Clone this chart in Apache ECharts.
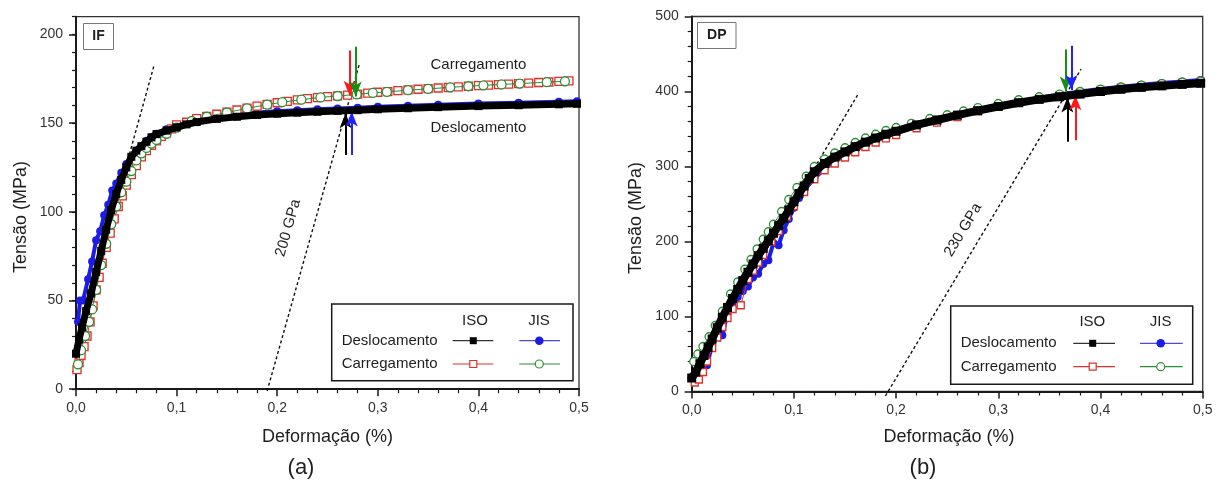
<!DOCTYPE html>
<html>
<head>
<meta charset="utf-8">
<script src="https://cdn.jsdelivr.net/npm/echarts@6.0.0/dist/echarts.min.js"></script>
<style>html,body{margin:0;padding:0;background:#fff;}#chart{width:1217px;height:481px;}</style>
</head>
<body>
<div id="chart"></div>
<script>
// ================= DATA =================
const X_TICKS = [0, 0.1, 0.2, 0.3, 0.4, 0.5];
const IF_Y_TICKS = [0, 50, 100, 150, 200];
const DP_Y_TICKS = [0, 100, 200, 300, 400, 500];

// ---- (a) IF ----
const IF_DESL_ISO_X = [0, 0.003, 0.006, 0.01, 0.015, 0.02, 0.025, 0.03, 0.035, 0.04, 0.045, 0.05, 0.055, 0.06, 0.065, 0.07, 0.075, 0.08, 0.09, 0.1, 0.11, 0.12, 0.14, 0.16, 0.18, 0.2, 0.22, 0.24, 0.26, 0.28, 0.3, 0.33, 0.36, 0.4, 0.44, 0.48, 0.498];
const IF_DESL_ISO_Y = [20, 28, 35, 44, 54, 66, 78, 90, 101, 110, 118, 125, 131, 134.5, 137, 139.5, 142, 143.8, 145.8, 147.6, 149.3, 150.6, 152.4, 153.6, 154.6, 155.3, 155.9, 156.4, 156.9, 157.3, 157.8, 158.4, 159, 159.6, 160.1, 160.6, 160.9];

const IF_DESL_JIS_X = [0.002, 0.004, 0.007, 0.012, 0.016, 0.02, 0.024, 0.028, 0.032, 0.036, 0.04, 0.045, 0.05, 0.055, 0.06, 0.065, 0.07, 0.075, 0.08, 0.09, 0.1, 0.12, 0.14, 0.16, 0.18, 0.2, 0.22, 0.24, 0.26, 0.28, 0.3, 0.33, 0.36, 0.4, 0.44, 0.48, 0.498];
const IF_DESL_JIS_Y = [38, 50, 50, 62, 72, 84, 89, 98, 104, 112, 116, 122, 127, 130.5, 134, 137, 140, 142, 144, 146.5, 148.5, 151.5, 153.8, 155, 156, 156.7, 157.3, 157.8, 158.3, 158.7, 159.2, 159.8, 160.4, 161, 161.5, 162, 162.3];

const IF_CARR_ISO_X = [0.001, 0.003, 0.005, 0.008, 0.011, 0.014, 0.017, 0.02, 0.023, 0.026, 0.03, 0.034, 0.038, 0.042, 0.046, 0.05, 0.055, 0.06, 0.065, 0.07, 0.075, 0.08, 0.085, 0.09, 0.095, 0.1, 0.11, 0.12, 0.13, 0.14, 0.15, 0.16, 0.17, 0.18, 0.19, 0.2, 0.21, 0.22, 0.23, 0.24, 0.25, 0.26, 0.27, 0.28, 0.29, 0.3, 0.31, 0.32, 0.33, 0.34, 0.35, 0.36, 0.37, 0.38, 0.39, 0.4, 0.41, 0.42, 0.43, 0.44, 0.45, 0.46, 0.47, 0.48, 0.49];
const IF_CARR_ISO_Y = [11, 15, 19, 24, 30, 38, 47, 56, 63, 71, 80, 88, 96, 103, 109, 115, 121, 126, 131, 134.5, 137.5, 140, 142.5, 144.5, 146.8, 149, 150.5, 152.5, 153.8, 155, 156.2, 157.4, 158.5, 159.6, 160.6, 161.5, 162.3, 163.1, 163.8, 164.4, 164.9, 165.4, 165.8, 166.4, 166.9, 167.4, 167.8, 168.3, 168.7, 169.1, 169.5, 169.8, 170.1, 170.4, 170.8, 171.1, 171.4, 171.7, 172, 172.3, 172.6, 172.9, 173.2, 173.5, 173.8];

const IF_CARR_JIS_X = [0.002, 0.005, 0.009, 0.013, 0.016, 0.02, 0.025, 0.03, 0.035, 0.04, 0.045, 0.05, 0.055, 0.06, 0.065, 0.07, 0.075, 0.08, 0.09, 0.1, 0.115, 0.13, 0.15, 0.17, 0.19, 0.205, 0.224, 0.243, 0.26, 0.279, 0.295, 0.309, 0.33, 0.35, 0.372, 0.39, 0.405, 0.423, 0.441, 0.468, 0.486];
const IF_CARR_JIS_Y = [14, 22, 30, 38, 45, 56, 70, 82, 93, 103, 111, 117, 123, 129, 133, 136, 138.5, 140.5, 144, 147.5, 151.2, 153.6, 156, 158.3, 160.4, 161.8, 163.2, 164.5, 165.3, 166.2, 167, 167.6, 168.6, 169.3, 170.2, 170.8, 171.3, 171.8, 172.3, 173.1, 173.6];

const IF_TANGENT = [[-0.014, -5], [0.0778, 183]];
const IF_OFFSET = [[0.19, -1], [0.2815, 183]];
// arrows: red, green, black, blue
const IF_ARROW_X = [0.272, 0.278, 0.268, 0.274];
const IF_ARROW_FROM = [191, 193, 132, 132];
const IF_ARROW_TO = [165.5, 165, 155.5, 156.5];

// ---- (b) DP ----
const DP_DESL_ISO_X = [0, 0.004, 0.008, 0.012, 0.016, 0.02, 0.025, 0.03, 0.035, 0.04, 0.045, 0.05, 0.055, 0.06, 0.065, 0.07, 0.075, 0.08, 0.085, 0.09, 0.095, 0.1, 0.105, 0.11, 0.115, 0.12, 0.13, 0.14, 0.15, 0.16, 0.17, 0.18, 0.19, 0.2, 0.22, 0.24, 0.26, 0.28, 0.3, 0.32, 0.34, 0.36, 0.38, 0.4, 0.42, 0.44, 0.46, 0.48, 0.498];
const DP_DESL_ISO_Y = [18, 26, 37, 48, 59, 70, 85, 99, 112, 124, 136, 148, 159, 170, 181, 191, 201, 211, 221, 231, 242, 253, 264, 274, 284, 293, 304, 312.5, 319.5, 326.5, 332.5, 338, 343, 347, 355.5, 362, 368.5, 374.5, 380, 385, 389.5, 393, 396.5, 400, 403, 405.5, 407.5, 409.5, 411];

const DP_DESL_JIS_X = [0.004, 0.01, 0.015, 0.02, 0.025, 0.03, 0.035, 0.04, 0.045, 0.05, 0.055, 0.06, 0.065, 0.07, 0.075, 0.08, 0.085, 0.09, 0.095, 0.1, 0.105, 0.11, 0.12, 0.13, 0.14, 0.15, 0.16, 0.18, 0.2, 0.22, 0.24, 0.26, 0.28, 0.3, 0.32, 0.34, 0.36, 0.38, 0.4, 0.42, 0.44, 0.46, 0.48, 0.498];
const DP_DESL_JIS_Y = [25, 42, 35, 62, 78, 75, 104, 118, 126, 134, 140, 152, 157, 170, 175, 198, 195, 215, 230, 245, 258, 268, 284, 297, 306, 316, 323, 336, 347, 355, 362, 369, 375.5, 381.5, 387, 391.5, 396, 400, 403.5, 406.5, 409, 411.5, 413.5, 415.5];

const DP_CARR_ISO_X = [0.003, 0.007, 0.011, 0.015, 0.02, 0.025, 0.03, 0.035, 0.04, 0.048, 0.055, 0.06, 0.065, 0.07, 0.078, 0.085, 0.093, 0.1, 0.11, 0.12, 0.13, 0.14, 0.15, 0.16, 0.17, 0.18, 0.19, 0.2, 0.22, 0.24, 0.26, 0.28, 0.3, 0.32, 0.34, 0.36, 0.38, 0.4, 0.42, 0.44, 0.46, 0.48, 0.498];
const DP_CARR_ISO_Y = [12, 16, 26, 40, 58, 72, 86, 98, 110, 115, 150, 161, 172, 182, 200, 214, 233, 247, 266, 283, 295, 304, 312, 319, 326, 332, 337.5, 342, 351, 358.5, 366, 373.5, 380.5, 386.5, 391, 395, 398.5, 402, 405, 407.5, 409.5, 411.5, 413];

const DP_CARR_JIS_X = [0.002, 0.006, 0.011, 0.017, 0.023, 0.03, 0.038, 0.045, 0.052, 0.058, 0.064, 0.07, 0.075, 0.08, 0.088, 0.095, 0.103, 0.112, 0.12, 0.13, 0.14, 0.15, 0.16, 0.17, 0.18, 0.19, 0.2, 0.215, 0.233, 0.25, 0.266, 0.28, 0.3, 0.32, 0.34, 0.36, 0.38, 0.4, 0.42, 0.44, 0.46, 0.48, 0.498];
const DP_CARR_JIS_Y = [40, 50, 60, 73, 88, 107, 130, 146, 163, 176, 190, 203, 213, 223, 240, 256, 272, 287, 300, 310, 318, 325, 332, 338, 343, 348, 352, 357.5, 364, 369, 374, 378.5, 384, 389, 393, 396.5, 400, 403, 406, 408.5, 410.5, 412.5, 414];

const DP_TANGENT = [[-0.0115, -6], [0.1626, 396]];
const DP_OFFSET = [[0.1895, -6], [0.381, 430]];
// arrows: green, blue, black, red
const DP_ARROW_X = [0.366, 0.3715, 0.3676, 0.3754];
const DP_ARROW_FROM = [456, 461, 333, 335];
const DP_ARROW_TO = [400, 402, 392, 395];

// ================= STYLE =================
const FONT = 'Arial, "Liberation Sans", Helvetica, sans-serif';
const TXT = '#1e1e1e';
const AX = '#1a1a1a';
const BLACK = '#000000', BLUE = '#1c1ce6', RED = '#e0302a', GREEN = '#2f8f36';
const IF_ARROW_COLORS = ['#ff1a1a', '#139013', '#000000', '#2222ff'];
const DP_ARROW_COLORS = ['#139013', '#2222ff', '#000000', '#ff1a1a'];

const pairs = (xs, ys) => xs.map((x, i) => [x, ys[i]]);

const chart = echarts.init(document.getElementById('chart'), null, {renderer: 'canvas'});

function xAxis(gi) {
  return {
    type: 'value', gridIndex: gi, min: 0, max: 0.5, interval: 0.1,
    axisLine: {show: true, onZero: false, lineStyle: {color: AX, width: 2}},
    axisTick: {show: true, length: 7, lineStyle: {color: AX, width: 1.5}},
    minorTick: {show: true, splitNumber: 5, length: 4, lineStyle: {color: AX, width: 1.2}},
    axisLabel: {color: '#333', fontSize: 14, fontFamily: FONT, margin: 12,
      formatter: v => X_TICKS.indexOf(Math.round(v * 10) / 10) >= 0 ? v.toFixed(1).replace('.', ',') : ''},
    splitLine: {show: false}, minorSplitLine: {show: false}
  };
}

const yLeft = {
  type: 'value', gridIndex: 0, min: 0, max: 210, interval: 50,
  axisLine: {show: true, onZero: false, lineStyle: {color: AX, width: 2}},
  axisTick: {show: true, length: 7, customValues: IF_Y_TICKS, lineStyle: {color: AX, width: 1.5}},
  axisLabel: {color: '#333', fontSize: 14, fontFamily: FONT, margin: 13,
    customValues: IF_Y_TICKS, formatter: v => String(v)},
  splitLine: {show: false}
};
const yLeftMinor = {
  type: 'value', gridIndex: 0, min: 0, max: 210, interval: 10, position: 'left',
  axisLine: {show: false}, axisTick: {show: true, length: 4, lineStyle: {color: AX, width: 1.2}},
  axisLabel: {show: false}, splitLine: {show: false}
};
const yRight = {
  type: 'value', gridIndex: 1, min: 0, max: 500, interval: 100,
  axisLine: {show: true, onZero: false, lineStyle: {color: AX, width: 2}},
  axisTick: {show: true, length: 7, lineStyle: {color: AX, width: 1.5}},
  minorTick: {show: true, splitNumber: 5, length: 4, lineStyle: {color: AX, width: 1.2}},
  axisLabel: {color: '#333', fontSize: 14, fontFamily: FONT, margin: 13,
    formatter: v => DP_Y_TICKS.indexOf(v) >= 0 ? String(v) : ''},
  splitLine: {show: false}, minorSplitLine: {show: false}
};

function curve(name, gi, yi, pts, kind, z, sz) {
  const s = {type: 'line', name, xAxisIndex: gi, yAxisIndex: yi, data: pts, animation: false, silent: true,
    showAllSymbol: true, z: z, emphasis: {disabled: true}};
  if (kind === 'black') {
    Object.assign(s, {symbol: 'rect', symbolSize: sz + 1, itemStyle: {color: BLACK},
      lineStyle: {color: BLACK, width: sz, cap: 'round', join: 'round'}});
  } else if (kind === 'blue') {
    Object.assign(s, {symbol: 'circle', symbolSize: sz, itemStyle: {color: BLUE},
      lineStyle: {color: BLUE, width: 4, cap: 'round', join: 'round'}});
  } else if (kind === 'red') {
    Object.assign(s, {symbol: 'rect', symbolSize: sz, itemStyle: {color: '#fff', borderColor: RED, borderWidth: 1.3},
      lineStyle: {color: RED, width: 1}});
  } else {
    Object.assign(s, {symbol: 'circle', symbolSize: sz, itemStyle: {color: '#fff', borderColor: GREEN, borderWidth: 1.3},
      lineStyle: {color: GREEN, width: 1}});
  }
  return s;
}
function dashed(gi, yi, seg) {
  return {type: 'line', xAxisIndex: gi, yAxisIndex: yi, data: seg, clip: false, animation: false, silent: true,
    showSymbol: false, symbol: 'none', z: 1, lineStyle: {color: '#111', width: 1.4, type: [3, 2.5]}};
}
function arrows(gi, yi, xs, from, to, colors) {
  return {type: 'line', xAxisIndex: gi, yAxisIndex: yi, data: [], z: 10, animation: false, silent: true,
    markLine: {silent: true, animation: false, symbol: ['none', 'arrow'], symbolSize: [9, 15],
      label: {show: false}, emphasis: {disabled: true}, lineStyle: {type: 'solid', width: 2},
      data: xs.map((x, i) => [
        {coord: [x, from[i]], lineStyle: {color: colors[i], width: 2, type: 'solid'}, itemStyle: {color: colors[i]}},
        {coord: [x, to[i]], lineStyle: {color: colors[i], width: 2, type: 'solid'}, itemStyle: {color: colors[i]}}
      ])}};
}

const option = {
  backgroundColor: '#fff',
  animation: false,
  grid: [
    {left: 76, top: 16.7, width: 503, height: 372.5, show: true, borderColor: '#333', borderWidth: 1.3, backgroundColor: 'transparent'},
    {left: 691.7, top: 16.5, width: 511, height: 375, show: true, borderColor: '#333', borderWidth: 1.3, backgroundColor: 'transparent'}
  ],
  xAxis: [xAxis(0), xAxis(1)],
  yAxis: [yLeft, yLeftMinor, yRight],
  series: [
    dashed(0, 0, IF_TANGENT), dashed(0, 0, IF_OFFSET),
    curve('Deslocamento JIS', 0, 0, pairs(IF_DESL_JIS_X, IF_DESL_JIS_Y), 'blue', 2, 8),
    curve('Carregamento ISO', 0, 0, pairs(IF_CARR_ISO_X, IF_CARR_ISO_Y), 'red', 3, 8),
    curve('Carregamento JIS', 0, 0, pairs(IF_CARR_JIS_X, IF_CARR_JIS_Y), 'green', 4, 9),
    curve('Deslocamento ISO', 0, 0, pairs(IF_DESL_ISO_X, IF_DESL_ISO_Y), 'black', 5, 7),
    arrows(0, 0, IF_ARROW_X, IF_ARROW_FROM, IF_ARROW_TO, IF_ARROW_COLORS),

    dashed(1, 2, DP_TANGENT), dashed(1, 2, DP_OFFSET),
    curve('Deslocamento JIS', 1, 2, pairs(DP_DESL_JIS_X, DP_DESL_JIS_Y), 'blue', 2, 8),
    curve('Carregamento ISO', 1, 2, pairs(DP_CARR_ISO_X, DP_CARR_ISO_Y), 'red', 3, 7),
    curve('Carregamento JIS', 1, 2, pairs(DP_CARR_JIS_X, DP_CARR_JIS_Y), 'green', 4, 8),
    curve('Deslocamento ISO', 1, 2, pairs(DP_DESL_ISO_X, DP_DESL_ISO_Y), 'black', 5, 8),
    arrows(1, 2, DP_ARROW_X, DP_ARROW_FROM, DP_ARROW_TO, DP_ARROW_COLORS)
  ]
};
chart.setOption(option);

// ================= ANNOTATIONS =================
function txt(x, y, s, o) {
  o = o || {};
  return {type: 'text', x: x, y: y, rotation: o.rot || 0, silent: true, z: 100,
    style: {text: s, fill: o.fill || TXT, fontSize: o.size || 15, fontFamily: FONT,
      fontWeight: o.weight || 'normal', align: o.align || 'center', verticalAlign: 'middle'}};
}
function px(gi, p) { return chart.convertToPixel({xAxisIndex: gi, yAxisIndex: gi === 0 ? 0 : 2}, p); }
function slopeLabel(gi, seg, s, dist, along) {
  const a = px(gi, seg[0]), b = px(gi, seg[1]);
  const ang = Math.atan2(a[1] - b[1], b[0] - a[0]);
  const d = [Math.cos(ang), -Math.sin(ang)], n = [-Math.sin(ang), -Math.cos(ang)];
  const m = [(a[0] + b[0]) / 2, (a[1] + b[1]) / 2];
  return txt(m[0] + n[0] * dist + d[0] * along, m[1] + n[1] * dist + d[1] * along, s, {rot: ang, size: 15});
}
function legend(L) {
  const els = [];
  els.push({type: 'rect', z: 99, silent: true, shape: {x: L.x0, y: L.y0, width: L.x1 - L.x0, height: L.y1 - L.y0},
    style: {fill: '#fff', stroke: '#1a1a1a', lineWidth: 1.5}});
  els.push(txt(L.isoX, L.headY, 'ISO'));
  els.push(txt(L.jisX, L.headY, 'JIS'));
  els.push(txt(L.textX, L.r1, 'Deslocamento', {align: 'left'}));
  els.push(txt(L.textX, L.r2, 'Carregamento', {align: 'left'}));
  const line = (x1, x2, y, c) => ({type: 'line', z: 100, silent: true, shape: {x1: x1, y1: y, x2: x2, y2: y}, style: {stroke: c, lineWidth: 1.2}});
  els.push(line(L.isoL[0], L.isoL[1], L.r1, '#333'));
  els.push(line(L.jisL[0], L.jisL[1], L.r1, '#4a4ae0'));
  els.push(line(L.isoL[0], L.isoL[1], L.r2, RED));
  els.push(line(L.jisL[0], L.jisL[1], L.r2, GREEN));
  els.push({type: 'rect', z: 101, silent: true, shape: {x: L.isoM - 3.5, y: L.r1 - 3.5, width: 7, height: 7}, style: {fill: BLACK}});
  els.push({type: 'circle', z: 101, silent: true, shape: {cx: L.jisM, cy: L.r1, r: 4.3}, style: {fill: BLUE}});
  els.push({type: 'rect', z: 101, silent: true, shape: {x: L.isoM - 3.5, y: L.r2 - 3.5, width: 7, height: 7}, style: {fill: '#fff', stroke: RED, lineWidth: 1.2}});
  els.push({type: 'circle', z: 101, silent: true, shape: {cx: L.jisM, cy: L.r2, r: 4}, style: {fill: '#fff', stroke: GREEN, lineWidth: 1.2}});
  return els;
}
function tagBox(x, y, w, h, s) {
  return [
    {type: 'rect', z: 99, silent: true, shape: {x: x, y: y, width: w, height: h}, style: {fill: '#fff', stroke: '#777', lineWidth: 1}},
    txt(x + w / 2, y + h / 2, s, {size: 14, weight: 'bold'})
  ];
}

const IF_CARR_LABEL = [0.4, 183], IF_DESL_LABEL = [0.4, 147.5];
const pC = px(0, IF_CARR_LABEL), pD = px(0, IF_DESL_LABEL);

const elements = [].concat(
  [txt(21, 217, 'Tensão (MPa)', {size: 18, rot: Math.PI / 2}),
   txt(636, 218, 'Tensão (MPa)', {size: 18, rot: Math.PI / 2}),
   txt(327.5, 437, 'Deformação (%)', {size: 18}),
   txt(949, 437, 'Deformação (%)', {size: 18}),
   txt(301, 468, '(a)', {size: 22}),
   txt(923, 468, '(b)', {size: 22}),
   txt(pC[0], pC[1], 'Carregamento'),
   txt(pD[0], pD[1], 'Deslocamento'),
   slopeLabel(0, IF_OFFSET, '200 GPa', 24, -7),
   slopeLabel(1, DP_OFFSET, '230 GPa', 18.6, -8.2)],
  tagBox(83.5, 23.5, 30, 26, 'IF'),
  tagBox(697.5, 22.5, 38.5, 26, 'DP'),
  legend({x0: 331.7, y0: 304, x1: 573, y1: 380.7, textX: 341.7, isoX: 475, jisX: 539, headY: 320.7,
    r1: 340.7, r2: 364, isoL: [452.7, 493.3], isoM: 473.3, jisL: [519.3, 560], jisM: 539.3}),
  legend({x0: 950.7, y0: 306, x1: 1192.7, y1: 384.3, textX: 960.7, isoX: 1092.3, jisX: 1160.7, headY: 322.3,
    r1: 343.3, r2: 366.7, isoL: [1073.3, 1115], isoM: 1092.7, jisL: [1140, 1182.7], jisM: 1160.7})
);
chart.setOption({graphic: {elements: elements}});
</script>
</body>
</html>
